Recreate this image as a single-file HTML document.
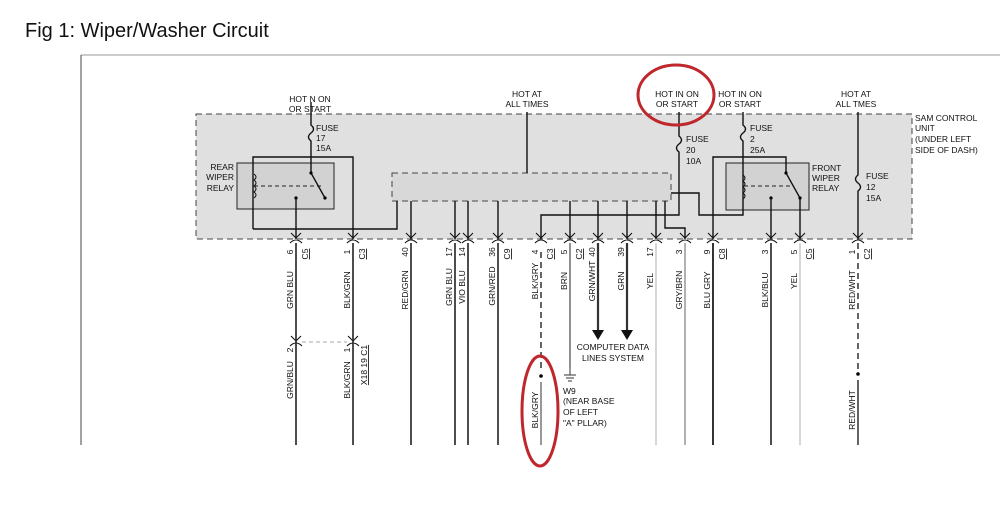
<!DOCTYPE html>
<html><head><meta charset="utf-8"><style>
html,body{margin:0;padding:0;background:#fff;}
svg{display:block;font-family:"Liberation Sans",sans-serif;}
.t{font-size:8.5px;fill:#111;}
</style></head><body>
<svg width="1000" height="509" viewBox="0 0 1000 509" xmlns="http://www.w3.org/2000/svg">
<defs>
<g id="cn"><path d="M-5,-6 L0,-1 L5,-6" fill="none" stroke="#111" stroke-width="1.1"/><path d="M-6,4 Q-3,1 0,1 Q3,1 6,4" fill="none" stroke="#111" stroke-width="1.1"/></g>
</defs>
<text x="25" y="37" font-size="20" fill="#111">Fig 1: Wiper/Washer Circuit</text>
<line x1="81" y1="55" x2="1000" y2="55" stroke="#999" stroke-width="1"/>
<line x1="81" y1="55" x2="81" y2="445" stroke="#444" stroke-width="1"/>
<rect x="196" y="114" width="716" height="125" fill="#e0e0e0" stroke="#444" stroke-dasharray="6,4"/>
<rect x="392" y="173" width="279" height="28" fill="#d8d8d8" stroke="#444" stroke-dasharray="6,4"/>
<rect x="237" y="163" width="97" height="46" fill="#d2d2d2" stroke="#222"/>
<path d="M253,229 L253,157 L353,157 L353,239 M253,229 L397,229 L397,201" fill="none" stroke="#111" stroke-width="1.4"/>
<path d="M254,174 q4,3 0,6 q4,3 0,6 q4,3 0,6 q4,3 0,6" fill="none" stroke="#111"/>
<line x1="254" y1="186" x2="323" y2="186" stroke="#222" stroke-dasharray="4,3"/>
<path d="M311,102 L311,125 q5,4 0,8 q-5,4 0,8 L311,173 L325,198" fill="none" stroke="#111" stroke-width="1.4"/>
<circle cx="311" cy="173" r="1.6"/><circle cx="325" cy="198" r="1.6"/><circle cx="296" cy="198" r="1.6"/>
<line x1="296" y1="198" x2="296" y2="239" stroke="#111" stroke-width="1.4"/>
<text class="t" x="310" y="102" text-anchor="middle">HOT N ON</text><text class="t" x="310" y="112" text-anchor="middle">OR START</text>
<text class="t" x="316" y="131">FUSE</text><text class="t" x="316" y="141">17</text><text class="t" x="316" y="151">15A</text>
<text class="t" x="234" y="170" text-anchor="end">REAR</text><text class="t" x="234" y="180" text-anchor="end">WIPER</text><text class="t" x="234" y="191" text-anchor="end">RELAY</text>
<line x1="527" y1="112" x2="527" y2="173" stroke="#111" stroke-width="1.4"/>
<text class="t" x="527" y="97" text-anchor="middle">HOT AT</text><text class="t" x="527" y="107" text-anchor="middle">ALL TIMES</text>
<text class="t" x="677" y="97" text-anchor="middle">HOT IN ON</text><text class="t" x="677" y="107" text-anchor="middle">OR START</text>
<path d="M679,112 L679,136 q5,4 0,8 q-5,4 0,8 L679,215 L541,215 L541,239" fill="none" stroke="#111" stroke-width="1.4"/>
<text class="t" x="686" y="142">FUSE</text><text class="t" x="686" y="153">20</text><text class="t" x="686" y="164">10A</text>
<text class="t" x="740" y="97" text-anchor="middle">HOT IN ON</text><text class="t" x="740" y="107" text-anchor="middle">OR START</text>
<rect x="726" y="163" width="83" height="47" fill="#d2d2d2" stroke="#222"/>
<path d="M743,112 L743,125 q5,4 0,8 q-5,4 0,8 L743,215 L699,215 L699,193 L671,193" fill="none" stroke="#111" stroke-width="1.4"/>
<path d="M743,175 q4,3 0,6 q4,3 0,6 q4,3 0,6 q4,3 0,6" fill="none" stroke="#111"/>
<line x1="744" y1="186" x2="790" y2="186" stroke="#222" stroke-dasharray="4,3"/>
<path d="M713,239 L713,157 L786,157 L786,173 L800,198 L800,239" fill="none" stroke="#111" stroke-width="1.4"/>
<circle cx="786" cy="173" r="1.6"/><circle cx="800" cy="198" r="1.6"/><circle cx="771" cy="198" r="1.6"/>
<line x1="771" y1="198" x2="771" y2="239" stroke="#111" stroke-width="1.4"/>
<text class="t" x="750" y="131">FUSE</text><text class="t" x="750" y="142">2</text><text class="t" x="750" y="153">25A</text>
<text class="t" x="812" y="171">FRONT</text><text class="t" x="812" y="181">WIPER</text><text class="t" x="812" y="191">RELAY</text>
<text class="t" x="856" y="97" text-anchor="middle">HOT AT</text><text class="t" x="856" y="107" text-anchor="middle">ALL TMES</text>
<path d="M858,112 L858,175 q-5,4 0,8 q5,4 0,8 L858,239" fill="none" stroke="#111" stroke-width="1.4"/>
<text class="t" x="866" y="179">FUSE</text><text class="t" x="866" y="190">12</text><text class="t" x="866" y="201">15A</text>
<text class="t" x="915" y="121">SAM CONTROL</text><text class="t" x="915" y="131">UNIT</text><text class="t" x="915" y="142">(UNDER LEFT</text><text class="t" x="915" y="153">SIDE OF DASH)</text>
<g stroke="#111" stroke-width="1.4" fill="none">
<line x1="411" y1="201" x2="411" y2="239"/><line x1="455" y1="201" x2="455" y2="239"/><line x1="468" y1="201" x2="468" y2="239"/><line x1="498" y1="201" x2="498" y2="239"/>
<line x1="570" y1="201" x2="570" y2="239"/><line x1="598" y1="201" x2="598" y2="239"/><line x1="627" y1="201" x2="627" y2="239"/><line x1="656" y1="201" x2="656" y2="239"/>
<path d="M665,201 L665,228 L685,228 L685,239"/>
</g>
<g>
<use href="#cn" x="296" y="239"/><use href="#cn" x="353" y="239"/><use href="#cn" x="411" y="239"/><use href="#cn" x="455" y="239"/><use href="#cn" x="468" y="239"/><use href="#cn" x="498" y="239"/><use href="#cn" x="541" y="239"/><use href="#cn" x="570" y="239"/><use href="#cn" x="598" y="239"/><use href="#cn" x="627" y="239"/><use href="#cn" x="656" y="239"/><use href="#cn" x="685" y="239"/><use href="#cn" x="713" y="239"/><use href="#cn" x="771" y="239"/><use href="#cn" x="800" y="239"/><use href="#cn" x="858" y="239"/>
<use href="#cn" x="296" y="342"/><use href="#cn" x="353" y="342"/>
</g>
<line x1="302" y1="342" x2="347" y2="342" stroke="#aaa" stroke-dasharray="4,3"/>
<g fill="none">
<line x1="296" y1="243" x2="296" y2="445" stroke="#222" stroke-width="1.6"/>
<line x1="353" y1="243" x2="353" y2="445" stroke="#222" stroke-width="1.6"/>
<line x1="411" y1="243" x2="411" y2="445" stroke="#222" stroke-width="1.6"/>
<line x1="455" y1="243" x2="455" y2="445" stroke="#222" stroke-width="1.6"/>
<line x1="468" y1="243" x2="468" y2="445" stroke="#222" stroke-width="1.6"/>
<line x1="498" y1="243" x2="498" y2="445" stroke="#222" stroke-width="1.6"/>
<line x1="541" y1="252" x2="541" y2="372" stroke="#222" stroke-width="1.4" stroke-dasharray="6,4"/>
<line x1="541" y1="382" x2="541" y2="445" stroke="#444" stroke-width="1.1"/>
<line x1="570" y1="243" x2="570" y2="368" stroke="#555" stroke-width="1.3"/>
<line x1="598" y1="243" x2="598" y2="330" stroke="#333" stroke-width="2.2"/>
<line x1="627" y1="243" x2="627" y2="330" stroke="#333" stroke-width="2.2"/>
<line x1="656" y1="243" x2="656" y2="445" stroke="#c4c4c4" stroke-width="1.4"/>
<line x1="685" y1="243" x2="685" y2="445" stroke="#909090" stroke-width="1.4"/>
<line x1="713" y1="243" x2="713" y2="445" stroke="#111" stroke-width="1.7"/>
<line x1="771" y1="243" x2="771" y2="445" stroke="#222" stroke-width="1.6"/>
<line x1="800" y1="243" x2="800" y2="445" stroke="#c4c4c4" stroke-width="1.4"/>
<line x1="858" y1="243" x2="858" y2="370" stroke="#222" stroke-width="1.4" stroke-dasharray="6,4"/>
<line x1="858" y1="380" x2="858" y2="445" stroke="#222" stroke-width="1.4"/>
</g>
<circle cx="541" cy="376" r="1.8"/><circle cx="858" cy="374" r="1.8"/>
<polygon points="592,330 604,330 598,340" fill="#111"/><polygon points="621,330 633,330 627,340" fill="#111"/>
<g stroke="#333"><line x1="570" y1="368" x2="570" y2="375"/><line x1="564" y1="375" x2="576" y2="375"/><line x1="566" y1="378" x2="574" y2="378"/><line x1="568" y1="381" x2="572" y2="381"/></g>
<text class="t" x="613" y="350" text-anchor="middle">COMPUTER DATA</text><text class="t" x="613" y="361" text-anchor="middle">LINES SYSTEM</text>
<text class="t" x="563" y="394">W9</text><text class="t" x="563" y="404">(NEAR BASE</text><text class="t" x="563" y="415">OF LEFT</text><text class="t" x="563" y="426">"A" PLLAR)</text>
<g class="t">
<text transform="translate(293,252) rotate(-90)" text-anchor="middle">6</text><text transform="translate(308,254) rotate(-90)" text-anchor="middle" text-decoration="underline">C5</text>
<text transform="translate(350,252) rotate(-90)" text-anchor="middle">1</text><text transform="translate(365,254) rotate(-90)" text-anchor="middle" text-decoration="underline">C3</text>
<text transform="translate(408,252) rotate(-90)" text-anchor="middle">40</text>
<text transform="translate(452,252) rotate(-90)" text-anchor="middle">17</text>
<text transform="translate(465,252) rotate(-90)" text-anchor="middle">14</text>
<text transform="translate(495,252) rotate(-90)" text-anchor="middle">36</text><text transform="translate(510,254) rotate(-90)" text-anchor="middle" text-decoration="underline">C9</text>
<text transform="translate(538,252) rotate(-90)" text-anchor="middle">4</text><text transform="translate(553,254) rotate(-90)" text-anchor="middle" text-decoration="underline">C3</text>
<text transform="translate(567,252) rotate(-90)" text-anchor="middle">5</text><text transform="translate(582,254) rotate(-90)" text-anchor="middle" text-decoration="underline">C2</text>
<text transform="translate(595,252) rotate(-90)" text-anchor="middle">40</text>
<text transform="translate(624,252) rotate(-90)" text-anchor="middle">39</text>
<text transform="translate(653,252) rotate(-90)" text-anchor="middle">17</text>
<text transform="translate(682,252) rotate(-90)" text-anchor="middle">3</text>
<text transform="translate(710,252) rotate(-90)" text-anchor="middle">9</text><text transform="translate(725,254) rotate(-90)" text-anchor="middle" text-decoration="underline">C8</text>
<text transform="translate(768,252) rotate(-90)" text-anchor="middle">3</text>
<text transform="translate(797,252) rotate(-90)" text-anchor="middle">5</text><text transform="translate(812,254) rotate(-90)" text-anchor="middle" text-decoration="underline">C5</text>
<text transform="translate(855,252) rotate(-90)" text-anchor="middle">1</text><text transform="translate(870,254) rotate(-90)" text-anchor="middle" text-decoration="underline">C2</text>
<text transform="translate(293,350) rotate(-90)" text-anchor="middle">2</text>
<text transform="translate(350,350) rotate(-90)" text-anchor="middle">1</text><text transform="translate(367,365) rotate(-90)" text-anchor="middle" text-decoration="underline">X18 19 C1</text>
<text transform="translate(293,290) rotate(-90)" text-anchor="middle">GRN BLU</text>
<text transform="translate(350,290) rotate(-90)" text-anchor="middle">BLK/GRN</text>
<text transform="translate(408,290) rotate(-90)" text-anchor="middle">RED/GRN</text>
<text transform="translate(452,287) rotate(-90)" text-anchor="middle">GRN BLU</text>
<text transform="translate(465,287) rotate(-90)" text-anchor="middle">VIO BLU</text>
<text transform="translate(495,286) rotate(-90)" text-anchor="middle">GRN/RED</text>
<text transform="translate(538,281) rotate(-90)" text-anchor="middle">BLK/GRY</text>
<text transform="translate(567,281) rotate(-90)" text-anchor="middle">BRN</text>
<text transform="translate(595,281) rotate(-90)" text-anchor="middle">GRN/WHT</text>
<text transform="translate(624,281) rotate(-90)" text-anchor="middle">GRN</text>
<text transform="translate(653,281) rotate(-90)" text-anchor="middle">YEL</text>
<text transform="translate(682,290) rotate(-90)" text-anchor="middle">GRY/BRN</text>
<text transform="translate(710,290) rotate(-90)" text-anchor="middle">BLU GRY</text>
<text transform="translate(768,290) rotate(-90)" text-anchor="middle">BLK/BLU</text>
<text transform="translate(797,281) rotate(-90)" text-anchor="middle">YEL</text>
<text transform="translate(855,290) rotate(-90)" text-anchor="middle">RED/WHT</text>
<text transform="translate(293,380) rotate(-90)" text-anchor="middle">GRN/BLU</text>
<text transform="translate(350,380) rotate(-90)" text-anchor="middle">BLK/GRN</text>
<text transform="translate(538,410) rotate(-90)" text-anchor="middle">BLK/GRY</text>
<text transform="translate(855,410) rotate(-90)" text-anchor="middle">RED/WHT</text>
</g>
<ellipse cx="676" cy="95" rx="38" ry="30" fill="none" stroke="#c0272d" stroke-width="3"/>
<ellipse cx="540" cy="411" rx="18" ry="55" fill="none" stroke="#c0272d" stroke-width="3"/>
</svg>
</body></html>
